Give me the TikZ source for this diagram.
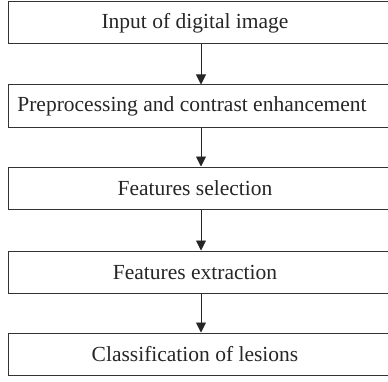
\documentclass[tikz,border=0pt]{standalone}
\usepackage{fontspec}
\setmainfont{Liberation Serif}
\usetikzlibrary{arrows.meta}
\begin{document}
\begin{tikzpicture}[x=1pt,y=1pt,
  stepbox/.style={draw=black!80, line width=1pt, minimum width=386pt, minimum height=42pt, inner sep=0pt},
  txt/.style={font=\fontsize{21.5}{24}\selectfont, text=black!85},
  flow/.style={draw=black!85, line width=0.9pt, -{Triangle[length=10pt,width=10pt]}}]
\useasboundingbox (0,0) rectangle (388,381);
\node[stepbox] (a) at (201,358) {};
\node[stepbox] (b) at (201,275) {};
\node[stepbox] (c) at (201,193) {};
\node[stepbox] (d) at (201,109) {};
\node[stepbox] (e) at (201,27) {};
\node[txt] (ta) at (195,358) {Input of digital image};
\node[txt] (tb) at (192,275) {Preprocessing and contrast enhancement};
\node[txt] (tc) at (195,193) {Features selection};
\node[txt] (td) at (195,109) {Features extraction};
\node[txt] (te) at (195,27) {Classification of lesions};
\draw[flow] (a.south) -- (b.north);
\draw[flow] (b.south) -- (c.north);
\draw[flow] (c.south) -- (d.north);
\draw[flow] (d.south) -- (e.north);
\end{tikzpicture}
\end{document}
